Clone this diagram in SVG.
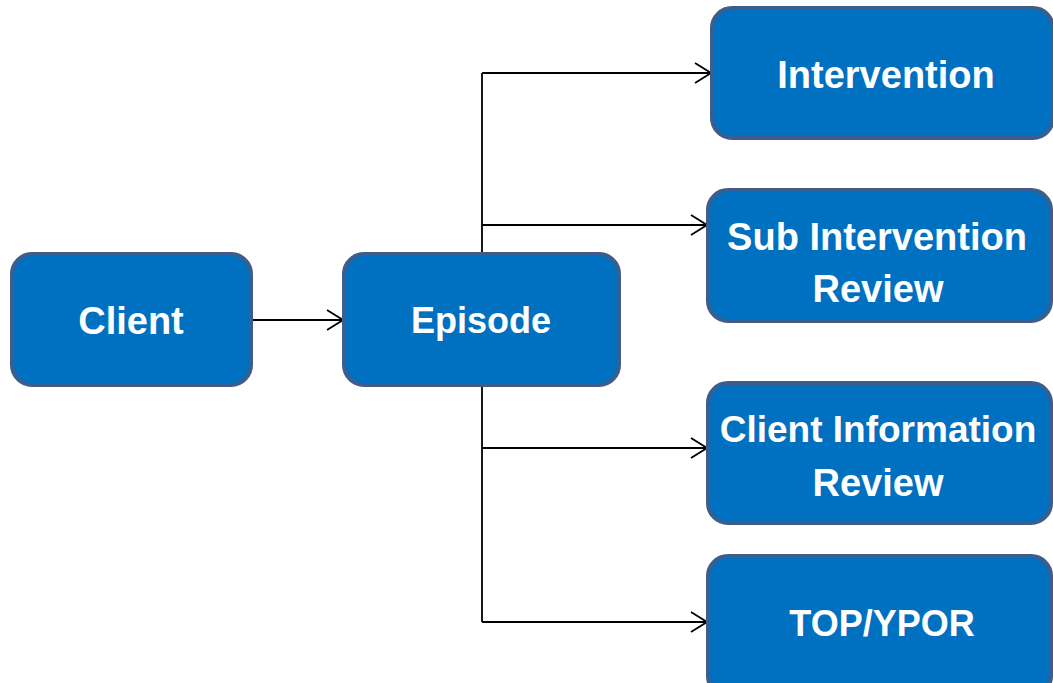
<svg xmlns="http://www.w3.org/2000/svg" width="1053" height="683" viewBox="0 0 1053 683">
<defs>
<style>
.box{fill:#0070C0;stroke:#3D5E8C;stroke-width:4}
.lbl{font-family:"Liberation Sans",Arial,sans-serif;font-weight:bold;font-size:38px;fill:#FFFFFF;text-anchor:middle}
.con{fill:none;stroke:#000000;stroke-width:1.8}
</style>
<marker id="arr" markerWidth="18" markerHeight="22" refX="17" refY="11" orient="auto" markerUnits="userSpaceOnUse">
<path d="M1,1 L17,11 L1,21" fill="none" stroke="#000000" stroke-width="1.8"/>
</marker>
</defs>
<rect width="1053" height="683" fill="#FFFFFF"/>
<g id="connectors">
<line class="con" x1="251" y1="320" x2="343" y2="320" marker-end="url(#arr)"/>
<line class="con" x1="482" y1="73" x2="482" y2="254"/>
<line class="con" x1="482" y1="385" x2="482" y2="622"/>
<line class="con" x1="482" y1="73" x2="711" y2="73" marker-end="url(#arr)"/>
<line class="con" x1="482" y1="225" x2="707" y2="225" marker-end="url(#arr)"/>
<line class="con" x1="482" y1="448" x2="707" y2="448" marker-end="url(#arr)"/>
<line class="con" x1="482" y1="622" x2="707" y2="622" marker-end="url(#arr)"/>
</g>
<g id="client">
<rect class="box" x="12" y="254" width="239" height="131" rx="20"/>
<text class="lbl" x="131" y="334">Client</text>
</g>
<g id="episode">
<rect class="box" x="344" y="254" width="275" height="131" rx="20"/>
<text class="lbl" x="481" y="333" style="font-size:36px">Episode</text>
</g>
<g id="intervention">
<rect class="box" x="712" y="8" width="341" height="130" rx="20"/>
<text class="lbl" x="886" y="88">Intervention</text>
</g>
<g id="sub-intervention-review">
<rect class="box" x="708" y="190" width="343" height="131" rx="20"/>
<text class="lbl" x="877" y="250">Sub Intervention</text>
<text class="lbl" x="878" y="302">Review</text>
</g>
<g id="client-information-review">
<rect class="box" x="708" y="383" width="343" height="140" rx="20"/>
<text class="lbl" x="878" y="442" style="font-size:37px">Client Information</text>
<text class="lbl" x="878" y="496">Review</text>
</g>
<g id="top-ypor">
<rect class="box" x="708" y="556" width="343" height="140" rx="20"/>
<text class="lbl" x="882" y="636" style="font-size:36px">TOP/YPOR</text>
</g>
</svg>
